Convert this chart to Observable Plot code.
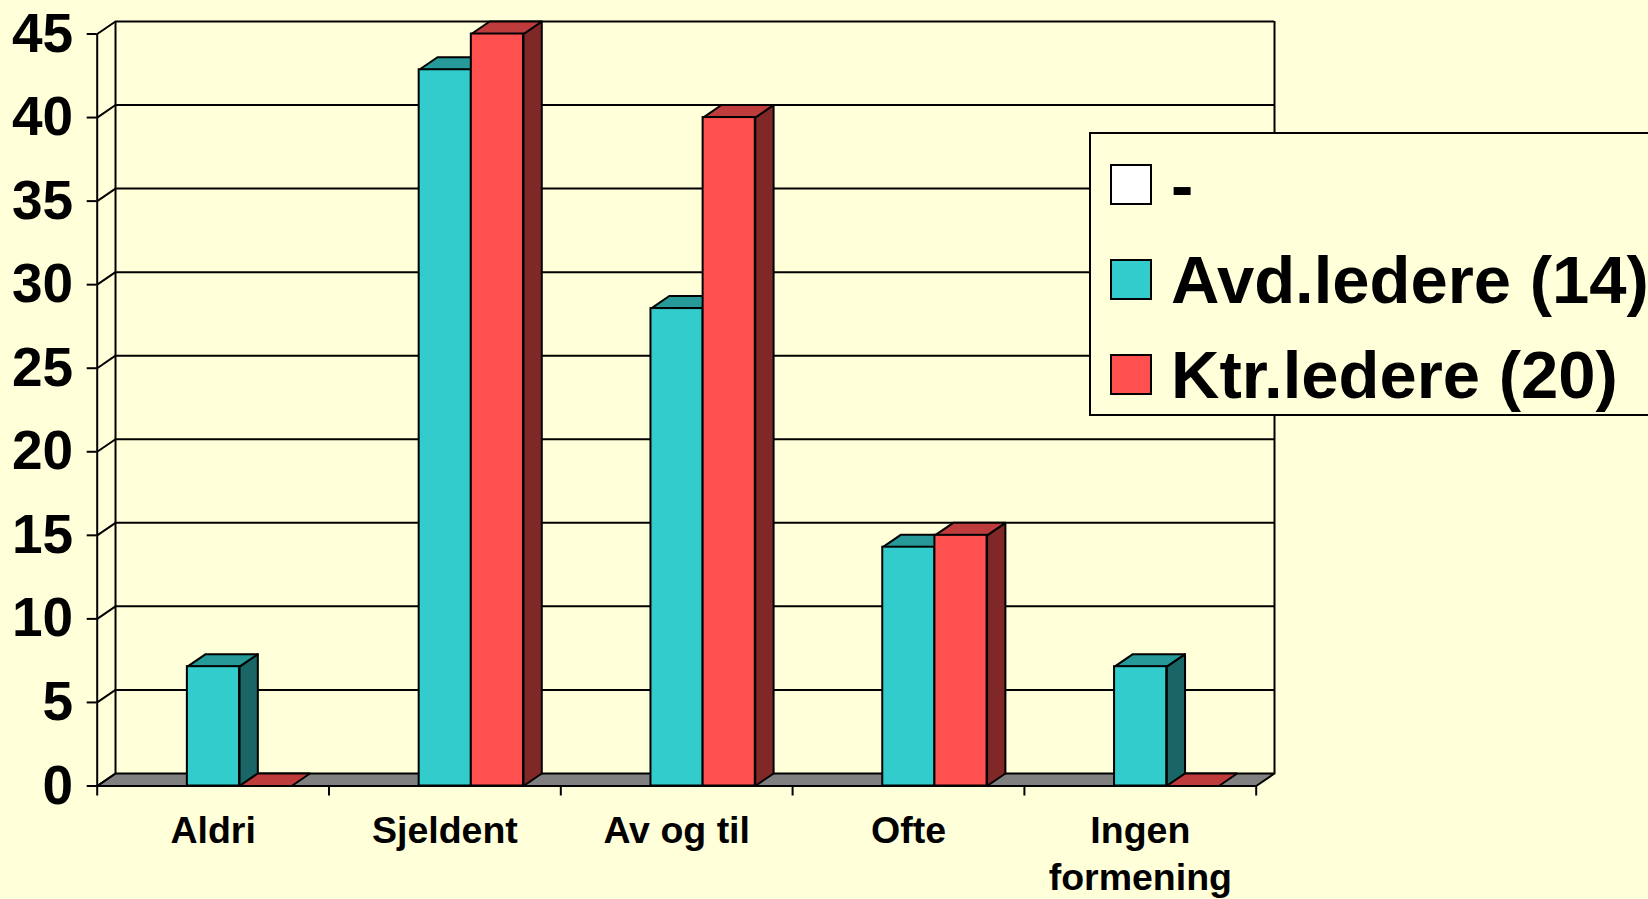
<!DOCTYPE html>
<html>
<head>
<meta charset="utf-8">
<script src="https://cdn.jsdelivr.net/npm/d3@7"></script>
<script src="https://cdn.jsdelivr.net/npm/@observablehq/plot@0.6"></script>
<style>
  html, body { margin: 0; padding: 0; background: #FFFFD9; overflow: hidden; width: 1648px; height: 899px; }
  #chart { position: absolute; left: 0; top: 0; }
  #legend { position: absolute; left: 1089px; top: 132px; width: 640px; height: 284px; border: 2px solid #000; box-sizing: border-box;
            background: #FFFFD9;
            font-family: "Liberation Sans", Arial, sans-serif; font-weight: bold; font-size: 67px; color: #000; }
  .item { position: absolute; left: 19px; height: 80px; display: flex; align-items: center; white-space: nowrap; line-height: 1; }
  .sw { width: 38px; height: 37px; border: 2px solid #000; margin-right: 19px; flex: none; }
</style>
</head>
<body>
<div id="chart"></div>
<div id="legend"></div>
<script>
// ---- data ----
const categories = ["Aldri", "Sjeldent", "Av og til", "Ofte", "Ingen\nformening"];
const seriesNames = ["-", "Avd.ledere (14)", "Ktr.ledere (20)"];
const dashValues = [];                                  // "-" series: no bars
const avdValues = [7.14, 42.86, 28.57, 14.29, 7.14];    // Avd.ledere (14)
const ktrValues = [0, 45, 40, 15, 0];                   // Ktr.ledere (20)
const yTicks = [0, 5, 10, 15, 20, 25, 30, 35, 40, 45];

// ---- style ----
const legendColors = ["#FFFFFF", "#33CCCC", "#FF5050"];
const faceColors = [
  {front: "#33CCCC", top: "#269999", side: "#1A6666"},
  {front: "#FF5050", top: "#BF3C3C", side: "#802828"}
];
const barOffsets = [0.389, 0.614];
const barW = 0.225;
const dX = 0.079, dY = 0.75;   // 3-D depth (in scale units)
const font = '"Liberation Sans", Arial, sans-serif';

// ---- derived geometry ----
const seriesVals = [avdValues, ktrValues];
const bars = [];
categories.forEach((c, i) => {
  seriesVals.forEach((vals, s) => {
    const x1 = i + barOffsets[s], x2 = x1 + barW, v = vals[i];
    bars.push({id: `${i}-${s}`, x1, x2, v, ...faceColors[s]});
  });
});
const sidePts = [], topPts = [];
for (const b of bars) {
  if (b.v > 0) {
    sidePts.push(
      {id: b.id, x: b.x2, y: 0, c: b.side},
      {id: b.id, x: b.x2 + dX, y: dY, c: b.side},
      {id: b.id, x: b.x2 + dX, y: b.v + dY, c: b.side},
      {id: b.id, x: b.x2, y: b.v, c: b.side});
  }
  topPts.push(
    {id: b.id, x: b.x1, y: b.v, c: b.top},
    {id: b.id, x: b.x2, y: b.v, c: b.top},
    {id: b.id, x: b.x2 + dX, y: b.v + dY, c: b.top},
    {id: b.id, x: b.x1 + dX, y: b.v + dY, c: b.top});
}
const n = categories.length;
const floorPts = [
  {x: 0, y: 0}, {x: n, y: 0}, {x: n + dX, y: dY}, {x: dX, y: dY}
];
const catBounds = d3.range(n + 1);

const chart = Plot.plot({
  width: 1648,
  height: 899,
  marginLeft: 96.7,
  marginRight: 1648 - 1255.7,
  marginTop: 33.5,
  marginBottom: 899 - 785.5,
  x: {domain: [0, n], axis: null},
  y: {domain: [0, 45], axis: null},
  color: {type: "identity"},
  style: {background: "transparent", fontFamily: font, color: "black", overflow: "visible"},
  marks: [
    // floor
    Plot.line(floorPts, {x: "x", y: "y", curve: "linear-closed", fill: "#808080", stroke: "black", strokeWidth: 2}),
    // back wall grid
    Plot.ruleY(yTicks.filter(v => v > 0), {y: v => v + dY, x1: dX, x2: n + dX, stroke: "black", strokeWidth: 2}),
    Plot.ruleX([dX, n + dX], {x: d => d, y1: dY, y2: 45 + dY, stroke: "black", strokeWidth: 2}),
    // side wall diagonals and front axis
    Plot.link(yTicks, {x1: 0, y1: v => v, x2: dX, y2: v => v + dY, stroke: "black", strokeWidth: 2}),
    Plot.ruleX([0], {y1: 0, y2: 45, stroke: "black", strokeWidth: 2}),
    Plot.axisY({ticks: yTicks, tickSize: 10, tickPadding: 14, fontSize: 55, fontWeight: "bold", strokeWidth: 2, label: null}),
    Plot.axisX({ticks: catBounds, tickSize: 10, tickFormat: () => "", strokeWidth: 2, label: null}),
    // bars
    Plot.line(sidePts, {x: "x", y: "y", z: "id", fill: "c", stroke: "black", strokeWidth: 2, curve: "linear-closed"}),
    Plot.line(topPts, {x: "x", y: "y", z: "id", fill: "c", stroke: "black", strokeWidth: 2, curve: "linear-closed"}),
    Plot.rect(bars.filter(b => b.v > 0), {x1: "x1", x2: "x2", y1: 0, y2: "v", fill: "front", stroke: "black", strokeWidth: 2}),
    // category labels
    Plot.text(categories, {x: (d, i) => i + 0.5, y: 0, text: d => d, dy: 23, lineAnchor: "top", lineHeight: 1.27,
      fontSize: 37.5, fontWeight: "bold", fill: "black"})
  ]
});
document.getElementById("chart").appendChild(chart);

// legend
const legend = document.getElementById("legend");
const centers = [51.5, 146.5, 241.5];
seriesNames.forEach((name, k) => {
  const item = document.createElement("div");
  item.className = "item";
  item.style.top = (centers[k] - 41) + "px";
  const sw = document.createElement("div");
  sw.className = "sw";
  sw.style.background = legendColors[k];
  const t = document.createElement("span");
  t.textContent = name;
  item.appendChild(sw);
  item.appendChild(t);
  legend.appendChild(item);
});
</script>
</body>
</html>
